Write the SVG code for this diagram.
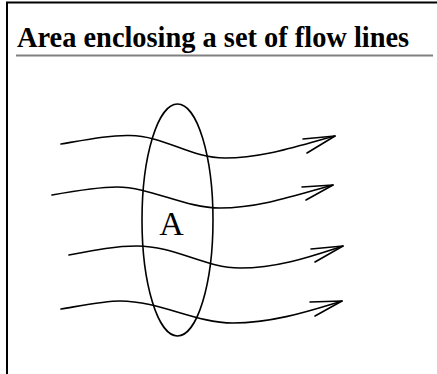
<svg xmlns="http://www.w3.org/2000/svg" width="437" height="374" viewBox="0 0 437 374">
<style>
.frame{fill:none;stroke:#000;stroke-width:2}
.flow{fill:none;stroke:#000;stroke-width:1.6;stroke-linecap:round;stroke-linejoin:round}
.title{font-family:"Liberation Serif","Times New Roman",serif;font-weight:bold;font-size:28.4px;fill:#000}
.lbl{font-family:"Liberation Serif","Times New Roman",serif;font-size:34px;fill:#000}
</style>
<rect width="437" height="374" fill="#fff"/>
<path class="frame" d="M7,374 L7,2.5 L437,2.5"/>
<text class="title" x="17" y="47">Area enclosing a set of flow lines</text>
<line x1="16" y1="55.5" x2="433" y2="55.5" stroke="#808080" stroke-width="2"/>
<g id="area">
<ellipse cx="177.5" cy="220" rx="35.5" ry="116" fill="none" stroke="#000" stroke-width="1.6"/>
<text class="lbl" x="171.5" y="235" text-anchor="middle">A</text>
</g>
<g id="connectors">
<g id="flow1">
<path class="flow" d="M61,144 C90,139 110,135 130,135.5 C165,136 190,158 225,158 C265,158 300,145 335,136"/>
<path class="flow" d="M303,139 L335,136 L307,153"/>
</g>
<g id="flow2">
<path class="flow" d="M52,195 C80,190 100,187 117,187 C150,187 185,208 220,208 C260,208 300,194 333,185"/>
<path class="flow" d="M302,187 L333,185 L306,200"/>
</g>
<g id="flow3">
<path class="flow" d="M69,255 C95,250 115,246 137,246 C175,246 205,268 240,268 C280,268 315,255 343,246"/>
<path class="flow" d="M311,249 L343,246 L315,262"/>
</g>
<g id="flow4">
<path class="flow" d="M61,309 C85,305 105,301 120,301 C160,301 195,323 233,323 C275,323 315,309 342,301"/>
<path class="flow" d="M310,302 L342,301 L315,316"/>
</g>
</g>
</svg>
